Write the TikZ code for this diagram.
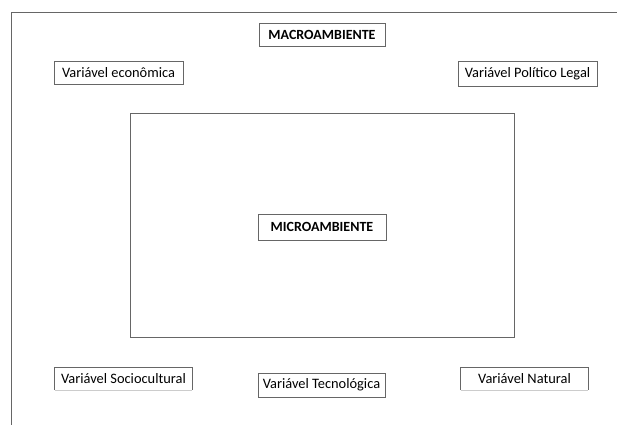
\documentclass[tikz,border=0pt]{standalone}
\usepackage{fontspec}
\setmainfont{Carlito}
\begin{document}
\begin{tikzpicture}[x=1pt,y=-1pt,
  lbl/.style={draw=black!60,line width=1pt,fill=white,inner sep=0pt,font=\fontsize{14.4}{16}\selectfont,text=black},
  edge/.style={draw=black!60,line width=1pt}]
\useasboundingbox (0,0) rectangle (617,426);
% outer frame (partial)
\coordinate (o1) at (617,12);
\coordinate (o2) at (11,12);
\coordinate (o3) at (11,425);
\draw[edge] (o1) -- (o2) -- (o3);
% inner rectangle
\node[draw=black!60,line width=1pt,minimum width=384pt,minimum height=224pt,inner sep=0pt] (micro) at (322,225) {};
\node[lbl,minimum width=126pt,minimum height=23pt,font=\bfseries\fontsize{14}{16}\selectfont] (macrot) at (322,35) {MACROAMBIENTE};
\node[lbl,minimum width=128pt,minimum height=26pt,font=\bfseries\fontsize{14}{16}\selectfont] (microt) at (322,227) {MICROAMBIENTE};
\node[lbl,minimum width=129pt,minimum height=23pt] (eco) at (118.5,72.5) {Variável econômica};
\node[lbl,minimum width=139pt,minimum height=25pt] (pol) at (527.5,73.5) {Variável Político Legal};
\node[lbl,minimum width=127pt,minimum height=24pt] (tec) at (321.5,385) {Variável Tecnológica};
% open-bottom boxes
\node[minimum width=137pt,minimum height=22pt,inner sep=0pt,font=\fontsize{14.4}{16}\selectfont] (soc) at (123.5,379) {Variável Sociocultural};
\draw[edge] (soc.south west) -- (soc.north west) -- (soc.north east) -- (soc.south east);
\draw[black!20,line width=0.8pt] (soc.south west) -- (soc.south east);
\node[minimum width=127pt,minimum height=22pt,inner sep=0pt,font=\fontsize{14.4}{16}\selectfont] (nat) at (524.5,379) {Variável Natural};
\draw[edge] (nat.south west) -- (nat.north west) -- (nat.north east) -- (nat.south east);
\draw[black!20,line width=0.8pt] (nat.south west) -- (nat.south east);
\end{tikzpicture}
\end{document}
